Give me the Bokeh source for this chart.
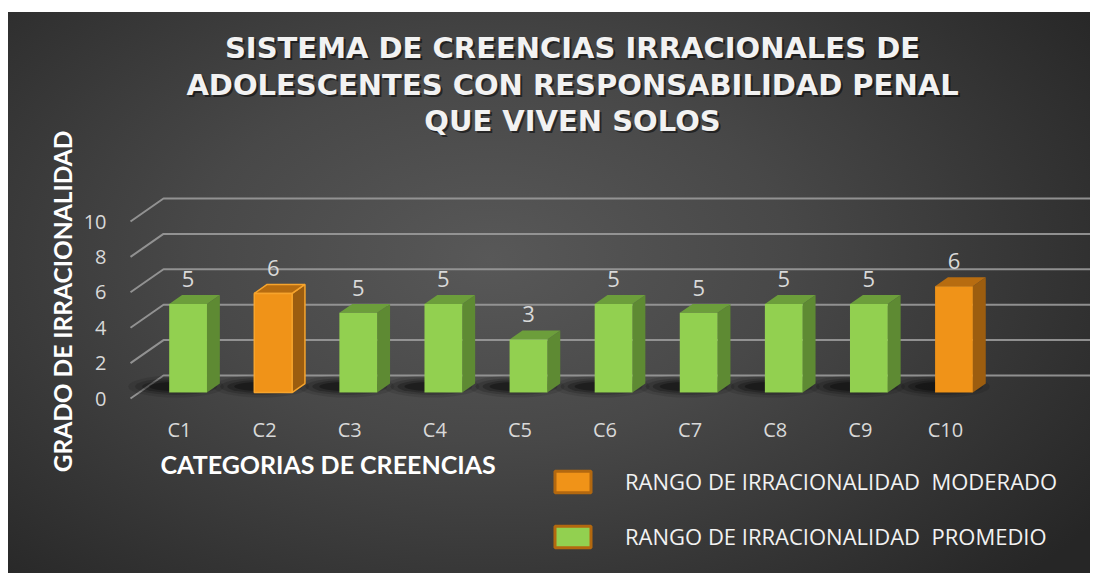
import math
from bokeh.plotting import figure
from bokeh.models import FixedTicker, Label, Legend, LegendItem, Range1d
from bokeh.core.properties import value
from bokeh.embed import file_html
from bokeh.resources import INLINE

# ---------------- data ----------------
categories = ["C1", "C2", "C3", "C4", "C5", "C6", "C7", "C8", "C9", "C10"]
values = [5.0, 5.6, 4.5, 5.0, 3.0, 5.0, 4.5, 5.0, 5.0, 6.0]
shown_labels = ["5", "6", "5", "5", "3", "5", "5", "5", "5", "6"]
rango = ["PROMEDIO", "MODERADO", "PROMEDIO", "PROMEDIO", "PROMEDIO",
         "PROMEDIO", "PROMEDIO", "PROMEDIO", "PROMEDIO", "MODERADO"]
y_ticks = [0, 2, 4, 6, 8, 10]
legend_names = ["MODERADO", "PROMEDIO"]
legend_texts = ["RANGO DE IRRACIONALIDAD  MODERADO", "RANGO DE IRRACIONALIDAD  PROMEDIO"]
title_lines = ["SISTEMA DE CREENCIAS IRRACIONALES DE",
               "ADOLESCENTES CON RESPONSABILIDAD PENAL",
               "QUE VIVEN SOLOS"]
y_title = "GRADO DE IRRACIONALIDAD"
x_title = "CATEGORIAS DE CREENCIAS"

# ---------------- styles ----------------
FRONT = {"PROMEDIO": "#92D050", "MODERADO": "#F09318"}
SIDE = {"PROMEDIO": "#5E8A33", "MODERADO": "#9C5D0F"}
TOP = {"PROMEDIO": "#6C9E3B", "MODERADO": "#B76C10"}
SWATCH_LINE = "#B3680F"
TXT = "#f2f2f2"

W, H = 1090, 573
PX_X, PX_Y = 85.1, 17.7           # pixels per data unit
X1_PX, Y0_PX = 179, 398           # where category 1 / value 0 sit (front plane)
x_start = 1 - X1_PX / PX_X
x_end = x_start + W / PX_X
y_end = Y0_PX / PX_Y
y_start = y_end - H / PX_Y

# oblique depth projection (per unit of depth)
DXd = 33 / PX_X
DYd = 23 / PX_Y
D0, DD = 0.26, 0.39          # bar front depth and bar thickness (depth units)
HW = 18.9 / PX_X             # half width of bar front

p = figure(width=W, height=H, x_range=Range1d(x_start, x_end), y_range=Range1d(y_start, y_end),
           output_backend="svg", toolbar_location=None,
           min_border_left=0, min_border_right=0, min_border_top=0, min_border_bottom=0)
p.background_fill_color = None
p.border_fill_color = None
p.outline_line_color = None
p.xgrid.visible = False
p.ygrid.visible = False
p.styles = {
    "background": "linear-gradient(#ffffff, #ffffff) left top / 8px 100% no-repeat, "
                  "linear-gradient(#ffffff, #ffffff) left top / 100% 12px no-repeat, "
                  "radial-gradient(ellipse 68% 80% at 45% 45%, #585858 0%, #484848 40%, #343434 75%, #262626 100%)"
}

# ---------------- walls / gridlines ----------------
x0 = 1 - (X1_PX - 130) / PX_X
grid_xs = [[x0, x0 + DXd, x_end] for t in y_ticks]
grid_ys = [[t, t + DYd, t + DYd] for t in y_ticks]
p.multi_line(grid_xs, grid_ys, line_color="#9a9a9a", line_width=2, line_alpha=0.9)

# ---------------- bars ----------------
xpos = [i + 1 for i in range(len(categories))]
cx = [x + D0 * DXd for x in xpos]
base = D0 * DYd
ddx, ddy = DD * DXd, DD * DYd

# soft shadows on the floor, behind/left of each bar
for wpx, hpx, a in [(96, 22, 0.10), (82, 17, 0.16), (68, 13, 0.22), (54, 9, 0.30)]:
    p.ellipse(x=[c - 12 / PX_X for c in cx], y=[base + 6 / PX_Y] * len(cx),
              width=wpx / PX_X, height=hpx / PX_Y, fill_color="black", fill_alpha=a, line_color=None)

side_xs, side_ys, top_xs, top_ys = [], [], [], []
for c, v in zip(cx, values):
    r = c + HW
    l = c - HW
    side_xs.append([r, r + ddx, r + ddx, r])
    side_ys.append([base, base + ddy, base + v + ddy, base + v])
    top_xs.append([l, r, r + ddx, l + ddx])
    top_ys.append([base + v, base + v, base + v + ddy, base + v + ddy])

edge = ["#F7A42C" if c == "C2" else None for c in categories]
p.patches(side_xs, side_ys, fill_color=[SIDE[g] for g in rango], line_color=edge, line_width=1.5)
p.patches(top_xs, top_ys, fill_color=[TOP[g] for g in rango], line_color=edge, line_width=1.5)
p.quad(left=[c - HW for c in cx], right=[c + HW for c in cx], bottom=base,
       top=[base + v for v in values], fill_color=[FRONT[g] for g in rango],
       line_color=edge, line_width=1.5)

# data labels
p.text(x=cx, y=[base + v for v in values], text=shown_labels, text_align="center",
       text_baseline="middle", y_offset=-25, text_font=value("Open Sans"),
       text_font_size="22px", text_color="#d9d9d9")

# ---------------- axes (drawn inside the frame at fixed data locations) ----------------
p.yaxis.fixed_location = 1 - (X1_PX - 125) / PX_X
p.yaxis.ticker = FixedTicker(ticks=y_ticks)
p.yaxis.axis_line_color = None
p.yaxis.major_tick_line_color = None
p.yaxis.minor_tick_line_color = None
p.yaxis.major_tick_out = 0
p.yaxis.major_tick_in = 0
p.yaxis.major_label_standoff = 19
p.yaxis.major_label_text_font = "Open Sans"
p.yaxis.major_label_text_font_size = "20px"
p.yaxis.major_label_text_color = "#d9d9d9"

p.xaxis.fixed_location = -(408 - Y0_PX) / PX_Y
p.xaxis.ticker = FixedTicker(ticks=xpos)
p.xaxis.major_label_overrides = {x: c for x, c in zip(xpos, categories)}
p.xaxis.axis_line_color = None
p.xaxis.major_tick_line_color = None
p.xaxis.minor_tick_line_color = None
p.xaxis.major_tick_out = 0
p.xaxis.major_tick_in = 0
p.xaxis.major_label_standoff = 7
p.xaxis.major_label_text_font = "Open Sans"
p.xaxis.major_label_text_font_size = "20px"
p.xaxis.major_label_text_color = "#d9d9d9"

# axis titles
p.add_layout(Label(x=62, y=H - 301, x_units="screen", y_units="screen", text=y_title,
                   angle=math.pi / 2, text_align="center", text_baseline="middle",
                   text_font="Lato", text_font_style="bold", text_font_size="24.5px",
                   text_color="#ffffff"))
p.add_layout(Label(x=160, y=H - 463, x_units="screen", y_units="screen", text=x_title,
                   text_align="left", text_baseline="middle", text_font="Lato",
                   text_font_style="bold", text_font_size="25px", text_color="#ffffff"))

# ---------------- title ----------------
for line, yy in zip(title_lines, [47, 84, 120]):
    p.add_layout(Label(x=574, y=H - yy - 2, x_units="screen", y_units="screen", text=line,
                       text_align="center", text_baseline="middle", text_font="DejaVu Sans",
                       text_font_style="bold", text_font_size="29px", text_color="#000000",
                       text_alpha=0.5))
    p.add_layout(Label(x=572, y=H - yy, x_units="screen", y_units="screen", text=line,
                       text_align="center", text_baseline="middle", text_font="DejaVu Sans",
                       text_font_style="bold", text_font_size="29px", text_color=TXT))

# ---------------- legend ----------------
dummies = []
nan = float("nan")
for g in legend_names:
    r = p.quad(left=[nan], right=[nan], top=[nan], bottom=[nan], fill_color=FRONT[g],
               line_color=SWATCH_LINE, line_width=3)
    dummies.append(r)
legend = Legend(items=[LegendItem(label=t, renderers=[r]) for t, r in zip(legend_texts, dummies)],
                location=(550, H - 551), orientation="vertical", glyph_width=45, glyph_height=27,
                label_standoff=30, spacing=25, padding=0, margin=0, border_line_color=None,
                background_fill_alpha=0, label_text_font="Open Sans", label_text_font_size="22px",
                label_text_color=TXT)
p.add_layout(legend)

open("out.html", "w").write(file_html(p, INLINE))
